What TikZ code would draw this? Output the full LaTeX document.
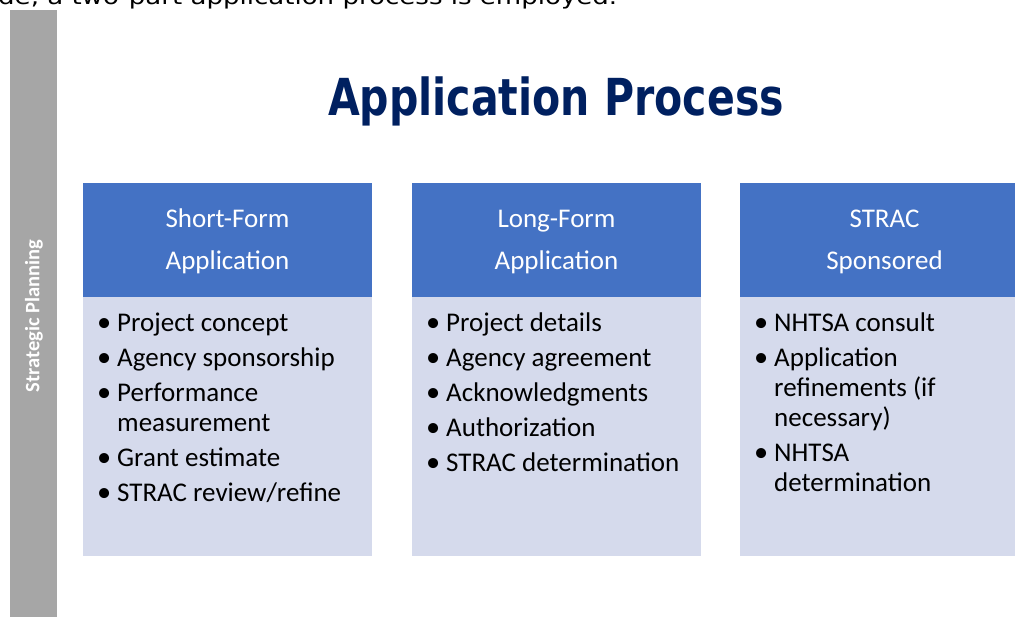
\documentclass[tikz,border=0pt]{standalone}
\usepackage{fontspec}
\setmainfont{Carlito}
\newfontfamily\djsans{DejaVu Sans}
\definecolor{headblue}{HTML}{4472C4}
\definecolor{bodyblue}{HTML}{D5DAEC}
\definecolor{bargray}{HTML}{A6A6A6}
\definecolor{titlenavy}{HTML}{002060}
\newlength\titlew
\newlength\topw
\newcommand\titlefont{\djsans\bfseries\fontsize{51}{51}\selectfont}
\newcommand\topfont{\djsans\fontsize{22}{22}\selectfont}
\newcommand\bul{\makebox[20pt][l]{\raisebox{-0.3pt}{\scalebox{1.05}{\textbullet}}}}
\tikzset{
  headbox/.style={fill=headblue, draw=none, minimum width=289pt, minimum height=114pt, inner sep=0pt, anchor=north west},
  bodybox/.style={fill=bodyblue, draw=none, minimum width=289pt, minimum height=259pt, inner sep=0pt, anchor=north west},
  headtxt/.style={text=white, font=\fontsize{27}{27}\selectfont, anchor=base, inner sep=0pt},
  item/.style={text=black, font=\fontsize{27}{27}\selectfont, anchor=base west, inner sep=0pt},
}
\begin{document}
\settowidth\titlew{\titlefont Application Process}
\settowidth\topw{\topfont de, a two-part application process is employed.}
\pgfmathsetmacro\titlexs{456/\titlew}
\pgfmathsetmacro\topxs{619/\topw}
\begin{tikzpicture}[x=1pt,y=-1pt]
\useasboundingbox (0,0) rectangle (1015,616);
\clip (0,0) rectangle (1015,616);
% cut-off text line at top
\node[anchor=base west, inner sep=0pt] (toptext) at (-2,4) {\scalebox{\topxs}[1]{\topfont de, a two-part application process is employed.}};
% side bar
\node[fill=bargray, draw=none, minimum width=47pt, minimum height=620pt, inner sep=0pt, anchor=north west] (bar) at (10,10) {};
\node[rotate=90, text=white, font=\bfseries\fontsize{20.5}{20.5}\selectfont, inner sep=0pt] (sp) at (34,316) {Strategic Planning};
% title
\node[anchor=base, inner sep=0pt, text=titlenavy] (title) at (556,115) {\scalebox{\titlexs}[1]{\titlefont Application Process}};
% boxes
\node[headbox] (h1) at (83,183) {};
\node[bodybox] (b1) at (83,297) {};
\node[headbox] (h2) at (412,183) {};
\node[bodybox] (b2) at (412,297) {};
\node[headbox] (h3) at (740,183) {};
\node[bodybox] (b3) at (740,297) {};
% header texts
\node[headtxt] (h1a) at (227.5,227) {Short-Form};
\node[headtxt] (h1b) at (227.5,269) {Application};
\node[headtxt] (h2a) at (556.5,227) {Long-Form};
\node[headtxt] (h2b) at (556.5,269) {Application};
\node[headtxt] (h3a) at (884.5,227) {STRAC};
\node[headtxt] (h3b) at (884.5,269) {Sponsored};
% box 1 items
\node[item] (i11) at (97,331) {\bul Project concept};
\node[item] (i12) at (97,366) {\bul Agency sponsorship};
\node[item] (i13) at (97,401) {\bul Performance};
\node[item] (i13b) at (117,431) {measurement};
\node[item] (i14) at (97,466) {\bul Grant estimate};
\node[item] (i15) at (97,501) {\bul STRAC review/refine};
% box 2 items
\node[item] (i21) at (426,331) {\bul Project details};
\node[item] (i22) at (426,366) {\bul Agency agreement};
\node[item] (i23) at (426,401) {\bul Acknowledgments};
\node[item] (i24) at (426,436) {\bul Authorization};
\node[item] (i25) at (426,471) {\bul STRAC determination};
% box 3 items
\node[item] (i31) at (754,331) {\bul NHTSA consult};
\node[item] (i32) at (754,366) {\bul Application};
\node[item] (i32b) at (774,396) {refinements (if};
\node[item] (i32c) at (774,426) {necessary)};
\node[item] (i33) at (754,461) {\bul NHTSA};
\node[item] (i33b) at (774,491) {determination};
\end{tikzpicture}
\end{document}
